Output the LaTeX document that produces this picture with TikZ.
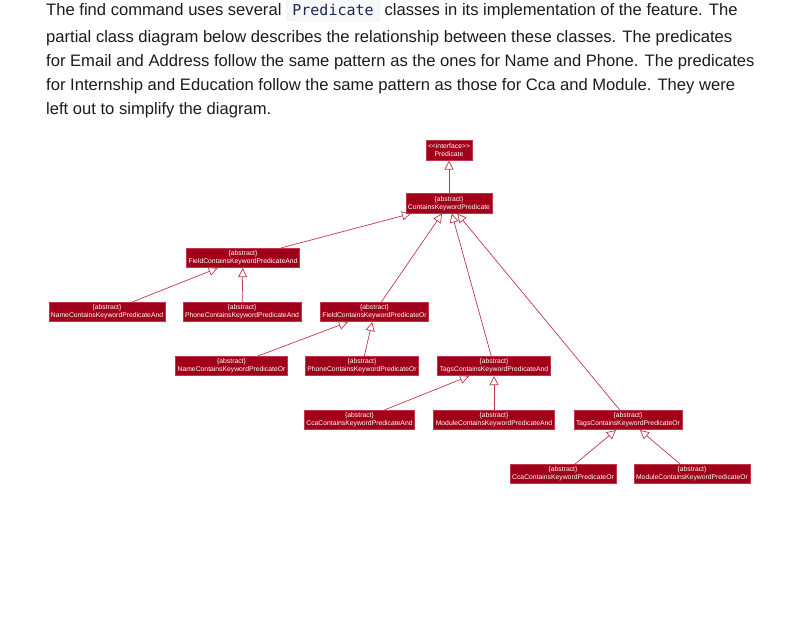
\documentclass[tikz,border=0pt]{standalone}
\usepackage{fontspec}
\setmainfont{Liberation Sans}
\setmonofont{DejaVu Sans Mono}
\newfontfamily\umlfont{Liberation Sans}
\usetikzlibrary{arrows.meta,positioning}
\definecolor{umlred}  {RGB}{160,  0, 25}
\definecolor{umlline} {RGB}{190, 55, 75}
\definecolor{codebg}  {RGB}{246,248,250}
\definecolor{codeedge}{RGB}{222,226,230}
\definecolor{codetext}{RGB}{ 28, 38, 80}
\definecolor{bodytext}{RGB}{ 28, 28, 30}
\tikzset{
  cls/.style={draw=umlline,fill=umlred,text=white,line width=0.6pt,
              minimum height=19.5pt,inner xsep=2pt,inner ysep=1pt,
              align=center,font=\umlfont\fontsize{6.8}{8}\selectfont},
  inh/.style={-{Triangle[open,length=9pt,width=9pt]},line width=0.7pt,
              color=umlline},
  para/.style={anchor=base west,inner sep=0pt,text=bodytext,
               font=\fontsize{16.6}{20}\selectfont},
  codebox/.style={anchor=base west,draw=codeedge,fill=codebg,
                  rounded corners=3pt,inner xsep=5.5pt,inner ysep=5.5pt,
                  text depth=0pt,text=codetext,
                  font=\ttfamily\fontsize{15}{18}\selectfont},
}
\newcommand{\abs}{\{abstract\}}

\begin{document}
\begin{tikzpicture}[x=1pt,y=-1pt]
  \useasboundingbox (0,0) rectangle (790,633);
  % Paragraph
  \node[para] (L1a) at (46,15.5) {The find command uses several};
  \node[codebox,right=5pt of L1a.base east,anchor=base west] (L1code) {Predicate};
  \node[para,right=5pt of L1code.base east,anchor=base west] (L1b)
       {classes in its implementation of the feature. The};
  \node[para] (L2) at (46,42.5) {partial class diagram below describes the relationship between these classes. The predicates};
  \node[para] (L3) at (46,66.5) {for Email and Address follow the same pattern as the ones for Name and Phone. The predicates};
  \node[para] (L4) at (46,90.5) {for Internship and Education follow the same pattern as those for Cca and Module. They were};
  \node[para] (L5) at (46,114.5) {left out to simplify the diagram.};

  % Top of hierarchy
  \node[cls] (Pred)      at (449,150.5) {<{}<interface>{}>\\Predicate};
  \node[cls] (CKP)       at (449,203.5) {\abs\\ContainsKeywordPredicate};
  % And / Or field predicates
  \node[cls] (FieldAnd)  at (243,258)   {\abs\\FieldContainsKeywordPredicateAnd};
  \node[cls] (NameAnd)   at (107,312)   {\abs\\NameContainsKeywordPredicateAnd};
  \node[cls] (PhoneAnd)  at (242,312)   {\abs\\PhoneContainsKeywordPredicateAnd};
  \node[cls] (FieldOr)   at (374.5,312) {\abs\\FieldContainsKeywordPredicateOr};
  \node[cls] (NameOr)    at (231.5,366) {\abs\\NameContainsKeywordPredicateOr};
  \node[cls] (PhoneOr)   at (362,366)   {\abs\\PhoneContainsKeywordPredicateOr};
  % Tags predicates
  \node[cls] (TagsAnd)   at (494,366)   {\abs\\TagsContainsKeywordPredicateAnd};
  \node[cls] (CcaAnd)    at (359.5,420) {\abs\\CcaContainsKeywordPredicateAnd};
  \node[cls] (ModuleAnd) at (494,420)   {\abs\\ModuleContainsKeywordPredicateAnd};
  \node[cls] (TagsOr)    at (628,420)   {\abs\\TagsContainsKeywordPredicateOr};
  \node[cls] (CcaOr)     at (563,474)   {\abs\\CcaContainsKeywordPredicateOr};
  \node[cls] (ModuleOr)  at (692,474)   {\abs\\ModuleContainsKeywordPredicateOr};

  % Inheritance
  \draw[inh] (CKP)       -- (Pred);
  \draw[inh] (FieldAnd)  -- (CKP);
  \draw[inh] (FieldOr)   -- (CKP);
  \draw[inh] (TagsAnd)   -- (CKP);
  \draw[inh] (TagsOr)    -- (CKP);
  \draw[inh] (NameAnd)   -- (FieldAnd);
  \draw[inh] (PhoneAnd)  -- (FieldAnd);
  \draw[inh] (NameOr)    -- (FieldOr);
  \draw[inh] (PhoneOr)   -- (FieldOr);
  \draw[inh] (CcaAnd)    -- (TagsAnd);
  \draw[inh] (ModuleAnd) -- (TagsAnd);
  \draw[inh] (CcaOr)     -- (TagsOr);
  \draw[inh] (ModuleOr)  -- (TagsOr);
\end{tikzpicture}
\end{document}
